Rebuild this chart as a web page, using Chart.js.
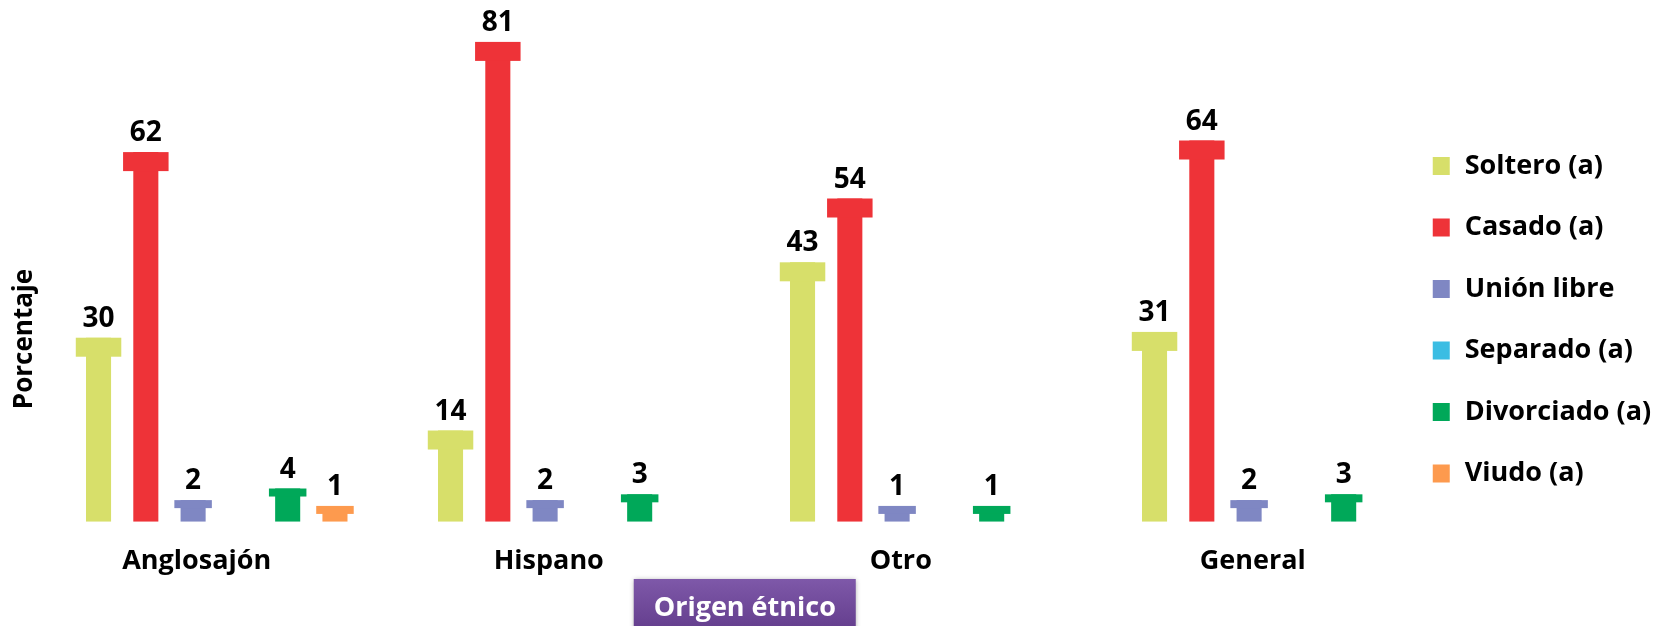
<!DOCTYPE html>
<html>

<head>
  <meta charset="utf-8">
  <title>Estado civil por origen étnico</title>
  <script src="https://cdn.jsdelivr.net/npm/chart.js"></script>
  <style>
    body {
      margin: 0;
      background: #ffffff;
    }

    canvas {
      display: block;
    }
  </style>
</head>

<body>
  <canvas id="estadoChart" width="1663" height="626"></canvas>

  <script>
    // Data (percent)
    const origenes = ['Anglosajón', 'Hispano', 'Otro', 'General'];
    const estados = ['Soltero (a)', 'Casado (a)', 'Unión libre', 'Separado (a)', 'Divorciado (a)', 'Viudo (a)'];
    const soltero = [30, 14, 43, 31];
    const casado = [62, 81, 54, 64];
    const unionLibre = [2, 2, 1, 2];
    const separado = [0, 0, 0, 0];
    const divorciado = [4, 3, 1, 3];
    const viudo = [1, 0, 0, 0];

    const colores = ['#d7df6a', '#ee3338', '#7f87c3', '#3bbde3', '#00a859', '#fd9a4e'];
    const valores = [soltero, casado, unionLibre, separado, divorciado, viudo];

    const FONT = '"Open Sans"';
    const WEIGHT = 'bold';
    const yMin = -1.72; // bars start a little below zero, like the original
    const yMax = 86.5;

    Chart.defaults.font.family = FONT;
    Chart.defaults.color = '#000000';

    // Zero values are not drawn at all
    const datasets = estados.map((nombre, i) => ({
      label: nombre,
      data: valores[i].map(v => (v === 0 ? null : v)),
      backgroundColor: colores[i],
      borderWidth: 0,
      base: yMin,
      categoryPercentage: 0.806,
      barPercentage: 0.53
    }));

    // Draws the wide "cap" on top of each bar, the value labels,
    // the axis titles and the legend
    const tBarPlugin = {
      id: 'tBarPlugin',
      beforeDraw(chart) {
        // purple box behind the x axis title
        const ctx = chart.ctx;
        const xs = chart.scales.x;
        const cx = (xs.left + xs.right) / 2;
        const top = xs.bottom - 47;
        ctx.save();
        const grad = ctx.createLinearGradient(0, top, 0, xs.bottom);
        grad.addColorStop(0, '#7e58a9');
        grad.addColorStop(1, '#66408f');
        ctx.shadowColor = 'rgba(0, 0, 0, 0.35)';
        ctx.shadowBlur = 5;
        ctx.shadowOffsetY = 1;
        ctx.fillStyle = grad;
        ctx.fillRect(cx - 111, top, 222, 60);
        ctx.restore();
      },
      afterDatasetsDraw(chart) {
        const ctx = chart.ctx;
        ctx.save();
        chart.data.datasets.forEach((ds, di) => {
          const meta = chart.getDatasetMeta(di);
          meta.data.forEach((bar, i) => {
            const v = ds.data[i];
            if (v === null || v === undefined) return;
            const { x, y, base } = bar.getProps(['x', 'y', 'base'], true);
            const big = (base - y) > 60;
            const capW = big ? 45.5 : 37.5;
            const capH = big ? 19 : 8;
            ctx.fillStyle = ds.backgroundColor;
            ctx.fillRect(x - capW / 2, y, capW, capH);

            ctx.fillStyle = '#000000';
            ctx.font = WEIGHT + ' 28px ' + FONT;
            ctx.textAlign = 'center';
            ctx.textBaseline = 'alphabetic';
            ctx.fillText(String(v), x, y - 11);
          });
        });
        ctx.restore();
      },
      afterDraw(chart) {
        const ctx = chart.ctx;
        ctx.save();

        // y axis title
        ctx.translate(25, 339);
        ctx.rotate(-Math.PI / 2);
        ctx.fillStyle = '#000000';
        ctx.font = WEIGHT + ' 26px ' + FONT;
        ctx.textAlign = 'center';
        ctx.textBaseline = 'middle';
        ctx.fillText('Porcentaje', 0, 0);
        ctx.setTransform(1, 0, 0, 1, 0, 0);

        // legend on the right
        ctx.font = WEIGHT + ' 27px ' + FONT;
        const lx = chart.chartArea.right - 16;
        let ly = 166;
        chart.data.datasets.forEach(ds => {
          ctx.fillStyle = ds.backgroundColor;
          ctx.fillRect(lx, ly - 9, 17, 18);
          ctx.fillStyle = '#000000';
          ctx.textAlign = 'left';
          ctx.fillText(ds.label, lx + 32, ly);
          ly += 61.5;
        });
        ctx.restore();
      }
    };

    const config = {
      type: 'bar',
      data: {
        labels: origenes,
        datasets: datasets
      },
      options: {
        responsive: false,
        animation: false,
        devicePixelRatio: 1,
        layout: {
          padding: { left: 40.75, right: 214.25, top: 10, bottom: 0 }
        },
        plugins: {
          legend: { display: false },
          tooltip: { enabled: false }
        },
        scales: {
          x: {
            grid: { display: false, drawTicks: false },
            border: { display: false },
            ticks: {
              font: { size: 27, weight: WEIGHT },
              padding: 23,
              labelOffset: -20
            },
            title: {
              display: true,
              text: 'Origen étnico',
              color: '#ffffff',
              font: { size: 27, weight: WEIGHT },
              padding: { top: 0, bottom: 1 }
            },
            afterFit(scale) {
              scale.height = 104.3;
            }
          },
          y: {
            display: false,
            min: yMin,
            max: yMax
          }
        }
      },
      plugins: [tBarPlugin]
    };

    const chart = new Chart(document.getElementById('estadoChart'), config);
  </script>
</body>

</html>
